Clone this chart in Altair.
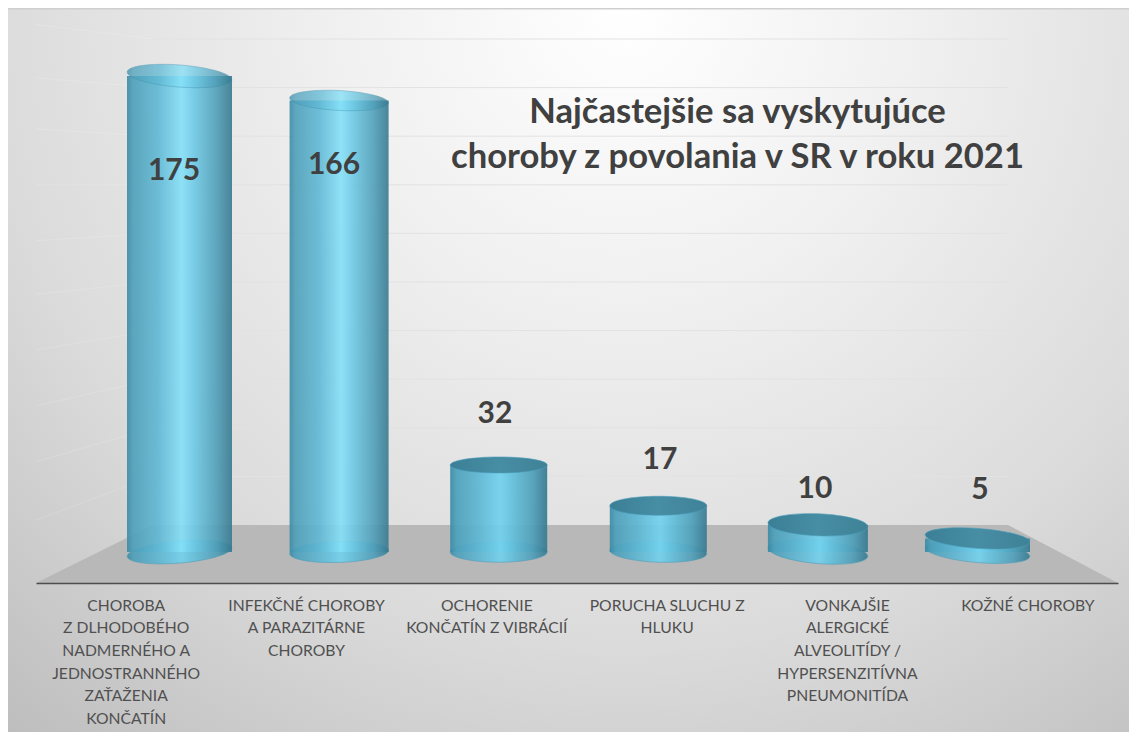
import altair as alt
import pandas as pd

categories = [
    "CHOROBA\nZ DLHODOBÉHO\nNADMERNÉHO A\nJEDNOSTRANNÉHO\nZAŤAŽENIA\nKONČATÍN",
    "INFEKČNÉ CHOROBY\nA PARAZITÁRNE\nCHOROBY",
    "OCHORENIE\nKONČATÍN Z VIBRÁCIÍ",
    "PORUCHA SLUCHU Z\nHLUKU",
    "VONKAJŠIE\nALERGICKÉ\nALVEOLITÍDY /\nHYPERSENZITÍVNA\nPNEUMONITÍDA",
    "KOŽNÉ CHOROBY",
]
values = [175, 166, 32, 17, 10, 5]
title_lines = ["Najčastejšie sa vyskytujúce", "choroby z povolania v SR v roku 2021"]
wall_ticks = [20, 40, 60, 80, 100, 120, 140, 160, 180, 200]
wall_left = [2, 26, 49, 72, 95, 117, 140, 163, 184, 206]
floor_pos = [0, 1, 2, 3]
floor_top = [-23.9, 0, 0, -23.9]

W, H = 1121, 724
df = pd.DataFrame({"cat": categories, "value": values, "base": [0] * 6})
wall = pd.DataFrame({"g": wall_ticks, "left": wall_left, "a": [0] * 10, "b": [1] * 10, "c": [2] * 10})
floor = pd.DataFrame({"p": floor_pos, "top": floor_top, "front": [-23.9] * 4})

y_scale = alt.Scale(domain=[200 - H / 2.72, 200], range=[H, 0], nice=False, zero=False)
wall_y = alt.Scale(domain=[0, 200], range=[517, 31], nice=False, zero=False)
wall_x = alt.Scale(domain=[0, 1, 2, 3], range=[28, 145, 1000, 1110], zero=False, nice=False)
bar_x = alt.Scale(type="point", domain=categories, range=[171.5, 969.5], padding=0)
label_x = alt.Scale(type="band", domain=categories, range=[28, 1110], paddingInner=0, paddingOuter=0)


def ellipse(r):
    k = 0.5523
    return (
        f"M-1,0C-1,{-k * r:.4f},{-k},{-r},0,{-r}C{k},{-r},1,{-k * r:.4f},1,0"
        f"C1,{k * r:.4f},{k},{r},0,{r}C{-k},{r},-1,{k * r:.4f},-1,0Z"
    )


def side_fill(centre, shoulder):
    return {
        "gradient": "linear", "x1": 0, "x2": 1, "y1": 0, "y2": 0,
        "stops": [
            {"offset": 0, "color": "#3b8aa5"},
            {"offset": 0.06, "color": "#4d9fba"},
            {"offset": 0.3, "color": "#5fb8d4"},
            {"offset": 0.52, "color": centre},
            {"offset": 0.62, "color": shoulder},
            {"offset": 0.85, "color": "#4f9fb9"},
            {"offset": 1, "color": "#37798f"},
        ],
    }


widths = [105, 99, 97, 97, 100, 105]
size_scale = alt.Scale(type="ordinal", domain=categories, range=[w * w for w in widths])
top_shape = alt.Scale(domain=categories, range=[ellipse(r) for r in [0.21, 0.2, 0.165, 0.196, 0.22, 0.19]])
base_shape = alt.Scale(domain=categories, range=[ellipse(r) for r in [0.21, 0.21, 0.21, 0.21, 0.23, 0.2]])
top_angle = alt.Scale(type="ordinal", domain=categories, range=[4.4, 3, 0, 0, 2.3, 4])
base_angle = alt.Scale(type="ordinal", domain=categories, range=[355, 358, 0, 2, 5, 5])

side = side_fill("#72d2ee", "#65c3df")
side_tall = side_fill("#84e0f8", "#70cde8")
lid = {
    "gradient": "linear", "x1": 0, "x2": 1, "y1": 0, "y2": 0,
    "stops": [
        {"offset": 0, "color": "#3a7f96"},
        {"offset": 0.5, "color": "#478da3"},
        {"offset": 1, "color": "#3f8298"},
    ],
}
backdrop = {
    "gradient": "radial", "x1": 0.55, "y1": 0.18, "r1": 0, "x2": 0.55, "y2": 0.18, "r2": 0.87,
    "stops": [
        {"offset": 0, "color": "#ffffff"},
        {"offset": 0.3, "color": "#f0f0f0"},
        {"offset": 0.65, "color": "#dbdbdb"},
        {"offset": 1, "color": "#bbbbbb"},
    ],
}

no_y = dict(title=None, axis=None)

bg = alt.Chart(df).mark_rect(fill=backdrop, stroke="#cfcfcf", strokeWidth=1).encode(
    x=alt.value(-1), x2=alt.value(W + 1), y=alt.value(1), y2=alt.value(H + 1)
)
side_lines = alt.Chart(wall).mark_rule(color="#ffffff", opacity=0.15, strokeWidth=1).encode(
    x=alt.X("a:Q", scale=wall_x, title=None, axis=None), x2="b:Q",
    y=alt.Y("left:Q", scale=wall_y, **no_y), y2="g:Q",
)
back_lines = alt.Chart(wall).mark_rule(color="#e2e2e2", strokeWidth=1).encode(
    x=alt.X("b:Q", scale=wall_x, title=None, axis=None), x2="c:Q",
    y=alt.Y("g:Q", scale=wall_y, **no_y),
)
floor_area = alt.Chart(floor).mark_area(color="#b8b8b8").encode(
    x=alt.X("p:Q", scale=wall_x, title=None, axis=None),
    y=alt.Y("top:Q", scale=wall_y, **no_y), y2="front:Q",
)
axis_layer = alt.Chart(df).mark_point(opacity=0).encode(
    x=alt.X("cat:N", scale=label_x, sort=categories, title=None, axis=alt.Axis(
        orient="bottom", offset=-(H - 575), zindex=1, domain=True, domainColor="#4d4d4d", domainWidth=1.5,
        ticks=False, labelAngle=0, labelAlign="center", labelBaseline="top", labelFont="Lato",
        labelFontSize=15.7, labelColor="#505050", labelPadding=15, labelLimit=0, labelOverlap=False,
        labelBound=False, labelFlush=False, labelLineHeight=22.7,
        labelExpr="split(datum.label, '\\n')", grid=False)),
    y=alt.value(575),
)

enc_x = alt.X("cat:N", scale=bar_x, sort=categories, title=None, axis=None)
bar_size = alt.Size("cat:N", scale=alt.Scale(type="ordinal", domain=categories, range=widths), legend=None)


def caps(field, shape, angle, data, **mark):
    return alt.Chart(data).mark_point(filled=True, **mark).encode(
        x=enc_x,
        y=alt.Y(f"{field}:Q", scale=y_scale, **no_y),
        size=alt.Size("cat:N", scale=size_scale, legend=None),
        shape=alt.Shape("cat:N", scale=shape, legend=None),
        angle=alt.Angle("cat:N", scale=angle, legend=None),
    )


tall = df[df.value > 100]
short = df[df.value <= 100]
base = caps("base", base_shape, base_angle, df, fill=side, stroke="#4a9cb8", strokeWidth=0.6, opacity=0.9)
body_short = alt.Chart(short).mark_bar(fill=side, opacity=0.93).encode(
    x=enc_x, y=alt.Y("value:Q", scale=y_scale, stack=None, **no_y), size=bar_size,
)
body_tall = alt.Chart(tall).mark_bar(fill=side_tall, opacity=0.9).encode(
    x=enc_x, y=alt.Y("value:Q", scale=y_scale, stack=None, **no_y), size=bar_size,
)
top_tall = caps("value", top_shape, top_angle, tall, fill=side_tall, stroke="#3d8ca6", strokeWidth=0.7, strokeOpacity=0.7, opacity=0.75)
top_short = caps("value", top_shape, top_angle, short, fill=lid, stroke="#4a9cb8", strokeWidth=0.6, opacity=1)

labels = alt.Chart(df).mark_text(font="Lato", fontWeight="bold", fontSize=30, color="#404040", baseline="middle", align="center").encode(
    x=alt.X("value:Q", scale=alt.Scale(domain=[5, 10, 17, 32, 166, 175], range=[972, 807, 652, 487, 326, 166], zero=False, nice=False), title=None, axis=None),
    y=alt.Y("value:Q", scale=alt.Scale(domain=[5, 10, 17, 32, 166, 175], range=[482, 481, 452, 406, 157, 163], zero=False, nice=False), **no_y),
    text="value:Q",
)

chart = alt.layer(
    bg, side_lines, back_lines, floor_area, axis_layer, base, body_short, body_tall, top_tall, top_short, labels
).resolve_scale(x="independent", y="independent", size="independent", shape="independent", angle="independent").properties(
    width=W, height=H, padding=0, autosize="none",
    title=alt.TitleParams(
        text=title_lines, font="Lato", fontSize=34.6, fontWeight="bold", color="#404040",
        lineHeight=45, anchor="start", align="center", dx=731, dy=168, offset=0,
    ),
).configure_view(stroke=None)

chart.save("out.html", embed_options={"renderer": "svg", "actions": False})
